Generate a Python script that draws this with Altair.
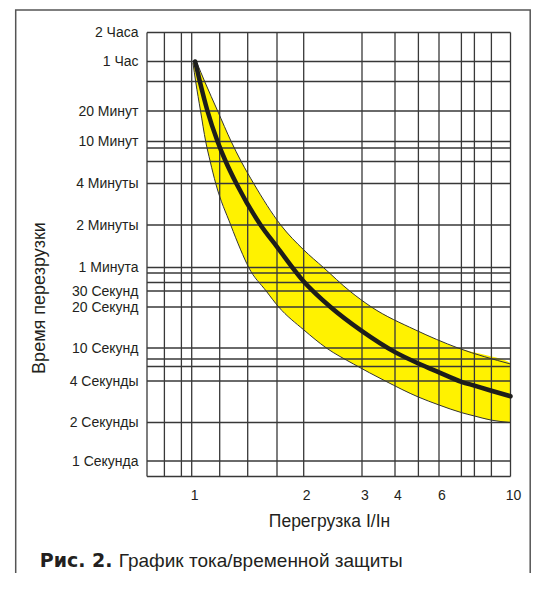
import altair as alt
import pandas as pd

# ---- axis structure (grid values and labels) ----
x_grid = [0.7, 0.8, 0.9, 1, 1.25, 1.5, 1.75, 2, 3, 4, 5, 6, 7, 8, 9, 10]
x_label_values = [1, 2, 3, 4, 6, 10]

y_grid = [0.7, 1, 2, 4, 6, 8, 10, 20, 30, 40, 50, 60, 120, 240, 360, 480, 600,
          1200, 2400, 3600, 7200]
y_label_values = [1, 2, 4, 10, 20, 30, 60, 120, 240, 600, 1200, 3600, 7200]
y_label_texts = ["1 Секунда", "2 Секунды", "4 Секунды", "10 Секунд", "20 Секунд",
                 "30 Секунд", "1 Минута", "2 Минуты", "4 Минуты", "10 Минут",
                 "20 Минут", "1 Час", "2 Часа"]

# ---- tolerance band (time in seconds, lower / upper current ratio) ----
band_time = [3500, 2400, 1200, 600, 360, 240, 120, 80, 60, 30, 20, 13.6, 10, 6.6,
             4, 3.06, 2.68, 2.36, 2.23, 2.08, 2.0]
band_low = [1.01, 1.032, 1.073, 1.118, 1.159, 1.211, 1.343, 1.433, 1.508, 1.653,
            1.765, 2.0, 2.342, 2.828, 3.676, 5.0, 6.0, 7.0, 8.0, 9.0, 10]
band_high = [1.043, 1.109, 1.23, 1.347, 1.438, 1.548, 1.783, 2.0, 2.294, 2.754,
             3.256, 4.85, 6.84, 10, 10, 10, 10, 10, 10, 10, 10]

# ---- nominal curve ----
curve_x = [1.028, 1.067, 1.134, 1.229, 1.300, 1.393, 1.605, 1.75, 2, 2.41, 3, 4,
           5, 6, 7, 8, 9, 10]
curve_t = [3600, 2400, 1200, 600, 360, 240, 120, 84, 41, 20, 13.3, 9.2, 6.75,
           5.1, 3.95, 3.7, 3.4, 3.1]

# ---- styling / layout (non-uniform axis spacing of the original drawing) ----
x_pos = [0, 17.4, 34.4, 44.7, 72.7, 100.7, 130, 156.7, 215, 248, 271.4, 292,
         314.4, 327.4, 344.4, 363.5]
y_pos = [444, 428.5, 390, 348.5, 334, 326.5, 315.5, 274.5, 258.5, 250, 240.5,
         235, 192.5, 151, 129, 115.5, 109, 78.5, 49, 29, 0]
W, H = 363.5, 444
PAD = {"left": 139, "top": 24.5, "right": 21, "bottom": 96.5}
GRID = "#383838"
TXT = "#231f20"
FONT = "Liberation Sans"

xs = alt.Scale(type="log", domain=x_grid, range=x_pos, nice=False)
ys = alt.Scale(type="log", domain=y_grid, range=y_pos, nice=False)


def label_expr(vals, texts):
    expr = "''"
    for v, t in reversed(list(zip(vals, texts))):
        expr = f"datum.value == {v} ? '{t}' : ({expr})"
    return expr


ax_x = alt.Axis(
    values=x_label_values, labelExpr="datum.value", grid=False, ticks=False,
    tickSize=0, domain=False, labelFont=FONT, labelFontSize=14,
    labelColor=TXT, labelPadding=11.5, labelFlush=False, labelOffset=2.5,
    title="Перегрузка I/Iн", titleFont=FONT, titleFontSize=17.5,
    titleFontWeight="normal", titleColor=TXT, titleX=182,
    titleY=50, titleBaseline="alphabetic", titleAlign="center",
)
ax_y = alt.Axis(
    values=y_label_values, labelExpr=label_expr(y_label_values, y_label_texts),
    grid=False, ticks=False, tickSize=0, domain=False, labelFont=FONT,
    labelFontSize=14, labelColor=TXT, labelPadding=9, labelFlush=False,
    title="Время перезрузки", titleFont=FONT, titleFontSize=18,
    titleFontWeight="normal", titleColor=TXT, titleX=-102.3, titleY=265,
    titleBaseline="alphabetic", titleAlign="center", titleAngle=270,
)

band_df = pd.DataFrame({"t": band_time, "lo": band_low, "hi": band_high})
upper_df = band_df[band_df["t"] >= 6.6]
curve_df = pd.DataFrame({"x": curve_x, "t": curve_t})
xg_df = pd.DataFrame({"x": x_grid})
yg_df = pd.DataFrame({"t": y_grid})
one = pd.DataFrame({"a": [0]})

frame = alt.Chart(one).mark_rect(filled=False, stroke="#555555", strokeWidth=1.5).encode(
    x=alt.value(-131.3), x2=alt.value(383.2), y=alt.value(-22.5), y2=alt.value(600)
)

band = alt.Chart(band_df).mark_area(
    orient="horizontal", color="#FFF200", interpolate="monotone"
).encode(
    y=alt.Y("t:Q", scale=ys, axis=ax_y),
    x=alt.X("lo:Q", scale=xs, axis=ax_x),
    x2="hi:Q",
)

vgrid = alt.Chart(xg_df).mark_rule(color=GRID, strokeWidth=1.3).encode(
    x=alt.X("x:Q", scale=xs, axis=ax_x)
)

hgrid = alt.Chart(yg_df).mark_rule(color=GRID, strokeWidth=1.3).encode(
    y=alt.Y("t:Q", scale=ys, axis=ax_y)
)

low_edge = alt.Chart(band_df).mark_line(
    color="#333333", strokeWidth=1, interpolate="monotone"
).encode(
    x=alt.X("lo:Q", scale=xs, axis=ax_x),
    y=alt.Y("t:Q", scale=ys, axis=ax_y),
)
up_edge = alt.Chart(upper_df).mark_line(
    color="#333333", strokeWidth=1, interpolate="monotone"
).encode(
    x=alt.X("hi:Q", scale=xs, axis=ax_x),
    y=alt.Y("t:Q", scale=ys, axis=ax_y),
)

curve = alt.Chart(curve_df).mark_line(
    color="#1d1d1b", strokeWidth=4.5, strokeCap="round", strokeJoin="round",
    interpolate="monotone",
).encode(
    x=alt.X("x:Q", scale=xs, axis=ax_x),
    y=alt.Y("t:Q", scale=ys, axis=ax_y),
)

cap_bold = alt.Chart(one).mark_text(
    text="Рис. 2.", font="DejaVu Sans", fontWeight="bold", fontSize=19,
    align="left", baseline="alphabetic", color=TXT,
).encode(x=alt.value(-107.3), y=alt.value(534.5))

cap_text = alt.Chart(one).mark_text(
    text="График тока/временной защиты", font=FONT,
    fontSize=19, align="left", baseline="alphabetic", color=TXT,
).encode(x=alt.value(-28.3), y=alt.value(534.5))

chart = alt.layer(
    frame, band, vgrid, hgrid, low_edge, up_edge, curve, cap_bold, cap_text
).properties(
    width=W, height=H,
    autosize=alt.AutoSizeParams(type="none"),
    padding=PAD,
    background="white",
).configure_view(strokeWidth=0)

chart.save("out.html", embed_options={"renderer": "svg", "actions": False})
